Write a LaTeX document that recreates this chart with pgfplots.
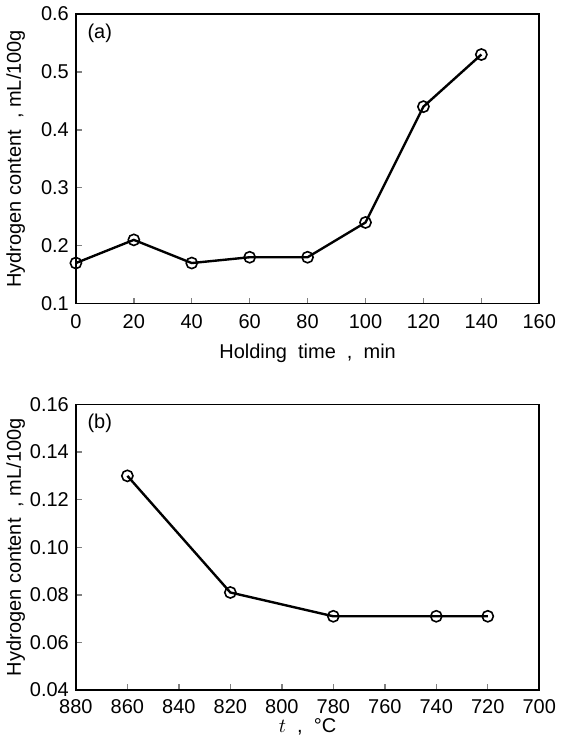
\documentclass[border=0pt]{standalone}
\usepackage{fontspec}
\setmainfont{Liberation Sans}
\usepackage{pgfplots}
\pgfplotsset{compat=1.18}

\pgfplotsset{
  panel/.style={
    scale only axis,
    axis line style={line width=0.9pt},
    tick align=inside,
    xtick pos=bottom, ytick pos=left,
    major tick length=3pt,
    tick style={line width=0.7pt},
    /pgf/number format/assume math mode=true,
    tick label style={font=\fontsize{10}{12}\selectfont},
    label style={font=\fontsize{10}{12}\selectfont},
    xticklabel style={yshift=-2pt},
    ylabel={Hydrogen content \ , mL/100g},
    ylabel style={at={(axis description cs:-0.13,0.5)}, anchor=center},
    xlabel style={yshift=-1pt},
  },
  dat/.style={black, line width=1.2pt, mark=o, mark size=2.8pt,
    mark options={fill=white, line width=0.8pt}},
}

\begin{document}
\begin{tikzpicture}
% top panel (a)
\begin{axis}[panel, at={(0,193.5pt)}, anchor=south west,
    width=232pt, height=145pt,
    xmin=0, xmax=160, xtick={0,20,...,160},
    ymin=0.1, ymax=0.6, ytick={0.1,0.2,...,0.6},
    yticklabel style={/pgf/number format/.cd, fixed, fixed zerofill, precision=1},
    xlabel={Holding \ time \ , \ min}]
\addplot[dat] coordinates {
  (0,0.17) (20,0.21) (40,0.17) (60,0.18) (80,0.18)
  (100,0.24) (120,0.44) (140,0.53)
};
\node[anchor=north west, font=\fontsize{10}{12}\selectfont] at (rel axis cs:0.01,0.99) {(a)};
\end{axis}
% bottom panel (b)
\begin{axis}[panel, at={(0,0)}, anchor=south west,
    width=232pt, height=143pt,
    x dir=reverse,
    xmin=700, xmax=880, xtick={700,720,...,880},
    ymin=0.04, ymax=0.16, ytick={0.04,0.06,...,0.16},
    yticklabel style={/pgf/number format/.cd, fixed, fixed zerofill, precision=2},
    xticklabel style={yshift=1pt},
    xlabel={$t$ \ , \ °C}, xlabel style={yshift=5pt}]
\addplot[dat] coordinates {
  (860,0.13) (820,0.081) (780,0.071) (740,0.071) (720,0.071)
};
\node[anchor=north west, font=\fontsize{10}{12}\selectfont] at (rel axis cs:0.01,0.99) {(b)};
\end{axis}
\pgfresetboundingbox
\path (-38pt,-26pt) rectangle (243.5pt,345.5pt);
\end{tikzpicture}
\end{document}
